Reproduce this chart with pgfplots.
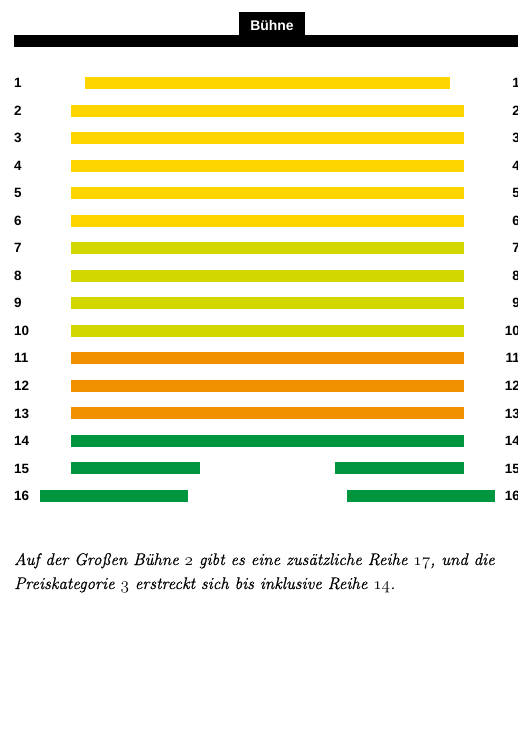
\documentclass[border=0pt]{standalone}
\usepackage{fontspec}
\usepackage{pgfplots}
\pgfplotsset{compat=1.18}
\newfontfamily\labfont{Liberation Sans}[BoldFont={Liberation Sans Bold}]
\newfontfamily\capfont{Latin Modern Roman}[FakeBold=0.7]
\newcommand\osn[1]{$\mathnormal{#1}$}
\definecolor{cyellow}{HTML}{FFD500}
\definecolor{clime}{HTML}{D2D700}
\definecolor{corange}{HTML}{F29100}
\definecolor{cgreen}{HTML}{00963F}
\begin{document}
\begin{tikzpicture}
\useasboundingbox (0,0) rectangle (518bp,729bp);
\clip (0,0) rectangle (518bp,729bp);
\begin{axis}[
  at={(0,0)}, anchor=south west,
  scale only axis, width=518bp, height=729bp,
  xmin=0, xmax=518, ymin=-2.0146, ymax=24.4625,
  y dir=reverse, hide axis, clip=false,
  every axis plot/.append style={line width=12bp, line cap=butt, no markers},
]
% stage
\fill[black] (axis cs:14,-0.7434) rectangle (axis cs:530,-0.3075);
\fill[black] (axis cs:239,-1.5787) rectangle (axis cs:305,-0.7); 
\node[text=white, font=\labfont\bfseries\fontsize{14}{16}\selectfont, inner sep=0] at (axis cs:272,-1.10) {Bühne};
% rows 1-6 (yellow)
\addplot[cyellow] coordinates {(85,1) (450,1)};
\addplot[cyellow] coordinates {(71,2) (464,2)};
\addplot[cyellow] coordinates {(71,3) (464,3)};
\addplot[cyellow] coordinates {(71,4) (464,4)};
\addplot[cyellow] coordinates {(71,5) (464,5)};
\addplot[cyellow] coordinates {(71,6) (464,6)};
% rows 7-10 (lime)
\addplot[clime] coordinates {(71,7) (464,7)};
\addplot[clime] coordinates {(71,8) (464,8)};
\addplot[clime] coordinates {(71,9) (464,9)};
\addplot[clime] coordinates {(71,10) (464,10)};
% rows 11-13 (orange)
\addplot[corange] coordinates {(71,11) (464,11)};
\addplot[corange] coordinates {(71,12) (464,12)};
\addplot[corange] coordinates {(71,13) (464,13)};
% rows 14-16 (green)
\addplot[cgreen] coordinates {(71,14) (464,14)};
\addplot[cgreen] coordinates {(71,15) (200,15)};
\addplot[cgreen] coordinates {(335,15) (464,15)};
\addplot[cgreen] coordinates {(40,16) (188,16)};
\addplot[cgreen] coordinates {(347,16) (495,16)};
% row labels
\pgfplotsinvokeforeach{1,...,16}{
  \node[anchor=west, inner sep=0, font=\labfont\bfseries\fontsize{13.5}{15}\selectfont] at (axis cs:14,#1) {#1};
  \node[anchor=east, inner sep=0, font=\labfont\bfseries\fontsize{13.5}{15}\selectfont] at (axis cs:520,#1) {#1};
}
% caption
\node[anchor=base west, inner sep=0, font=\capfont\itshape\fontsize{16.9}{24}\selectfont] at (axis cs:14,18.506)
  {Auf der Großen Bühne \osn{2} gibt es eine zusätzliche Reihe \osn{17}, und die};
\node[anchor=base west, inner sep=0, font=\capfont\itshape\fontsize{16.9}{24}\selectfont] at (axis cs:14,19.378)
  {Preiskategorie \osn{3} erstreckt sich bis inklusive Reihe \osn{14}.};
\end{axis}
\end{tikzpicture}
\end{document}
